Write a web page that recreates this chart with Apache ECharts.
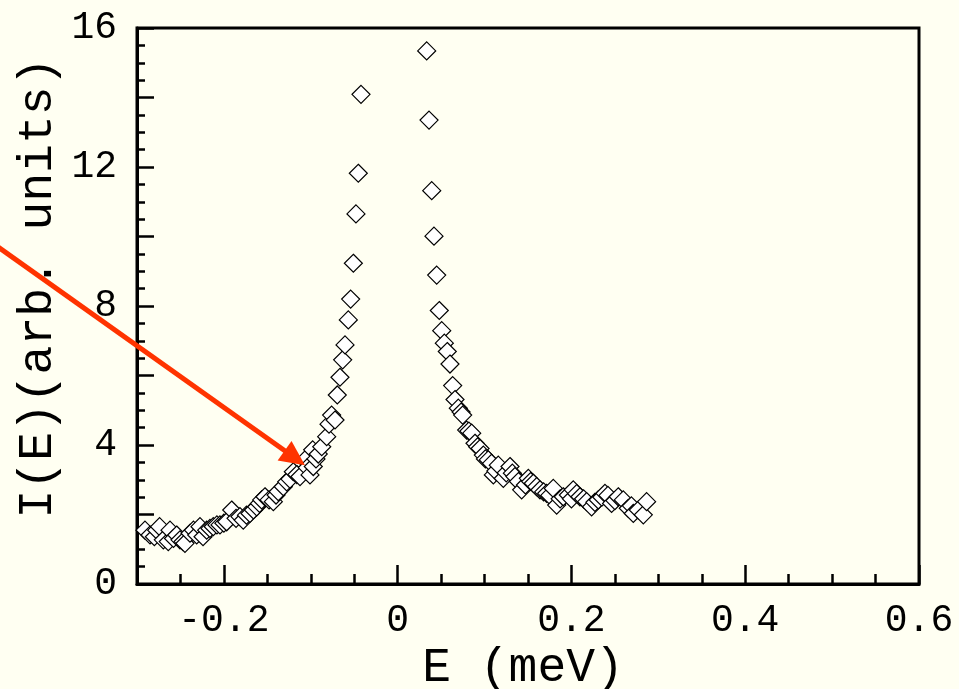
<!DOCTYPE html>
<html>
<head>
<meta charset="utf-8">
<script src="https://cdn.jsdelivr.net/npm/echarts@6/dist/echarts.min.js"></script>
<style>
html,body{margin:0;padding:0;background:#fffff2;}
#c{width:959px;height:689px;}
</style>
</head>
<body>
<div id="c"></div>
<script>
// Left branch (E < 0)
var leftE = [-0.2908,-0.2850,-0.2800,-0.2773,-0.2740,-0.2697,-0.2640,-0.2620,-0.2580,-0.2543,-0.2505,-0.2470,-0.2448,-0.2390,-0.2350,-0.2313,-0.2275,-0.2240,-0.2198,-0.2160,-0.2122,-0.2080,-0.2045,-0.2000,-0.1968,-0.1910,-0.1860,-0.1815,-0.1777,-0.1740,-0.1700,-0.1660,-0.1622,-0.1590,-0.1565,-0.1527,-0.1480,-0.1431,-0.1400,-0.1374,-0.1316,-0.1277,-0.1240,-0.1201,-0.1160,-0.1124,-0.1067,-0.1040,-0.1009,-0.0978,-0.0971,-0.0940,-0.0914,-0.0874,-0.0817,-0.0790,-0.0760,-0.0721,-0.0695,-0.0664,-0.0633,-0.0606,-0.0568,-0.0541,-0.0510,-0.0480,-0.0453,-0.0422];
var leftI = [1.55,1.41,1.36,1.55,1.65,1.27,1.22,1.55,1.31,1.41,1.27,1.22,1.17,1.46,1.55,1.41,1.65,1.36,1.55,1.60,1.65,1.70,1.70,1.75,1.79,2.13,1.89,1.94,1.84,1.98,2.03,2.13,2.22,2.32,2.42,2.51,2.42,2.37,2.56,2.66,2.80,2.94,3.02,3.23,3.15,3.09,3.57,3.35,3.14,3.86,3.38,3.60,3.74,3.95,4.24,4.60,4.86,4.72,5.44,5.95,6.45,6.88,7.60,8.20,9.23,10.65,11.82,14.09];
// Right branch (E > 0)
var rightE = [0.0334,0.0361,0.0392,0.0418,0.0449,0.0479,0.0507,0.0537,0.0571,0.0602,0.0633,0.0660,0.0698,0.0730,0.0748,0.0794,0.0820,0.0852,0.0890,0.0920,0.0948,0.0986,0.1010,0.1043,0.1080,0.1101,0.1130,0.1158,0.1216,0.1250,0.1293,0.1320,0.1350,0.1390,0.1427,0.1470,0.1504,0.1530,0.1561,0.1600,0.1638,0.1680,0.1715,0.1750,0.1791,0.1830,0.1870,0.1906,0.1964,0.2000,0.2021,0.2060,0.2098,0.2140,0.2175,0.2232,0.2270,0.2309,0.2350,0.2386,0.2420,0.2462,0.2500,0.2539,0.2597,0.2654,0.2690,0.2712,0.2769,0.2827,0.2865];
var rightI = [15.34,13.35,11.32,10.01,8.89,7.87,7.29,6.93,6.69,6.33,5.71,5.31,5.06,4.95,4.86,4.43,4.40,4.34,4.05,3.95,3.90,3.71,3.60,3.57,3.47,3.14,3.25,3.42,3.04,3.20,3.38,3.19,3.09,2.95,2.71,2.85,3.04,2.95,2.90,2.80,2.71,2.65,2.61,2.55,2.75,2.27,2.45,2.51,2.56,2.45,2.71,2.60,2.51,2.45,2.37,2.22,2.35,2.42,2.50,2.61,2.55,2.32,2.40,2.51,2.42,2.18,2.25,2.03,2.13,1.99,2.37];
// Tick labels
var xTickLabels = [-0.2, 0, 0.2, 0.4, 0.6];
var yTickLabels = [0, 4, 8, 12, 16];
// Arrow annotation (data coordinates): start, tip
var arrowStart = [-0.46, 9.70];
var arrowTip = [-0.1067, 3.42];

var FONT = '"Liberation Mono", "DejaVu Sans Mono", monospace';
function pairs(xs, ys){ var out=[]; for(var i=0;i<xs.length;i++) out.push([xs[i], ys[i]]); return out; }

var chart = echarts.init(document.getElementById('c'), null, {renderer:'canvas'});
var axisLineStyle = {color:'#000', width:3};
var option = {
  backgroundColor:'#fffff2',
  animation:false,
  grid:{left:137, right:40, top:28, bottom:105, show:true, borderColor:'#000', borderWidth:3, backgroundColor:'transparent'},
  xAxis:[{
    type:'value', min:-0.3, max:0.6, interval:0.05, position:'bottom',
    axisLine:{show:true, onZero:false, lineStyle:axisLineStyle},
    axisTick:{show:true, inside:true, length:10, lineStyle:{color:'#000', width:2.5}},
    axisLabel:{show:true, customValues:xTickLabels, fontFamily:FONT, fontSize:38, color:'#000', margin:18},
    splitLine:{show:false}
  },{
    type:'value', min:-0.3, max:0.6, position:'bottom',
    axisLine:{show:false, onZero:false},
    axisTick:{show:true, inside:true, length:19, customValues:xTickLabels, lineStyle:{color:'#000', width:2.5}},
    axisLabel:{show:false},
    splitLine:{show:false}
  }],
  yAxis:[{
    type:'value', min:0, max:16, interval:2, position:'left',
    axisLine:{show:true, onZero:false, lineStyle:axisLineStyle},
    axisTick:{show:true, inside:true, length:17, lineStyle:{color:'#000', width:2.5}},
    minorTick:{show:true, splitNumber:4, length:8, lineStyle:{color:'#000', width:2.5}},
    axisLabel:{show:true, fontFamily:FONT, fontSize:38, color:'#000', margin:20, padding:[0,0,6,0],
      formatter:function(v){ return yTickLabels.indexOf(v) >= 0 ? String(v) : ''; }},
    splitLine:{show:false}, minorSplitLine:{show:false}
  }],
  series:[{
    type:'scatter', xAxisIndex:0, yAxisIndex:0, symbol:'diamond', symbolSize:18,
    itemStyle:{color:'#fff', borderColor:'#000', borderWidth:1.2, opacity:1},
    data:pairs(leftE, leftI)
  },{
    type:'scatter', xAxisIndex:0, yAxisIndex:0, symbol:'diamond', symbolSize:18,
    itemStyle:{color:'#fff', borderColor:'#000', borderWidth:1.2, opacity:1},
    data:pairs(rightE, rightI)
  }]
};
chart.setOption(option);

var p0 = chart.convertToPixel({gridIndex:0}, arrowStart);
var p1 = chart.convertToPixel({gridIndex:0}, arrowTip);
var dx = p1[0]-p0[0], dy = p1[1]-p0[1], L = Math.sqrt(dx*dx+dy*dy);
var ux = dx/L, uy = dy/L, headLen = 25, headHalf = 12;
var bx = p1[0]-ux*headLen, by = p1[1]-uy*headLen;
var red = '#ff3300';
chart.setOption({
  graphic:[
    {type:'line', z:100, shape:{x1:p0[0], y1:p0[1], x2:bx+ux*2, y2:by+uy*2}, style:{stroke:red, lineWidth:5}},
    {type:'polygon', z:100, shape:{points:[[p1[0],p1[1]],[bx-uy*headHalf, by+ux*headHalf],[bx+uy*headHalf, by-ux*headHalf]]}, style:{fill:red}},
    {type:'text', z:100, x:523, y:668, style:{text:'E (meV)', font:'48px ' + FONT, fill:'#000', textAlign:'center', textVerticalAlign:'middle'}},
    {type:'text', z:100, x:38, y:288, rotation:Math.PI/2, style:{text:'I(E)(arb. units)', font:'48px ' + FONT, fill:'#000', textAlign:'center', textVerticalAlign:'middle'}}
  ]
});
</script>
</body>
</html>
